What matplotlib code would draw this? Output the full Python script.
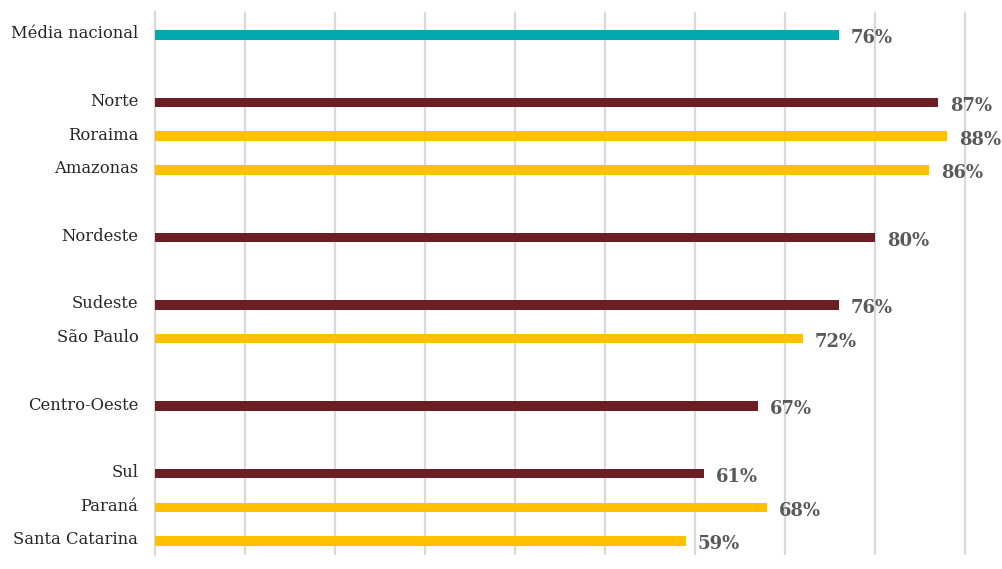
import matplotlib
matplotlib.use("Agg")
import matplotlib.pyplot as plt
from matplotlib.transforms import ScaledTranslation

# Rows top to bottom; empty strings are spacer rows between regions
labels = ["Média nacional", "", "Norte", "Roraima", "Amazonas", "", "Nordeste", "",
          "Sudeste", "São Paulo", "", "Centro-Oeste", "", "Sul", "Paraná", "Santa Catarina"]
values = [76, None, 87, 88, 86, None, 80, None, 76, 72, None, 67, None, 61, 68, 59]
kinds = ["media", None, "regiao", "estado", "estado", None, "regiao", None,
         "regiao", "estado", None, "regiao", None, "regiao", "estado", "estado"]

colors = {"media": "#00A9AD", "regiao": "#6B1F24", "estado": "#FFC000"}

plt.rcParams['font.family'] = ['DejaVu Serif']

fig = plt.figure(figsize=(10.03, 5.69), dpi=100)
ax = fig.add_axes([155 / 1003, 14 / 569, 1 - 155 / 1003, (555 - 12) / 569])

for i, (v, k) in enumerate(zip(values, kinds)):
    if v is None:
        continue
    ax.barh(i, v, height=0.28, color=colors[k], zorder=3)
    ax.text(v + 1.3, i + 0.1, f"{v}%", va="center", ha="left",
            fontsize=13, fontweight="bold", color="#595959", zorder=4)

ax.set_xlim(0, 94.2)
ax.set_ylim(15 + 0.415, -0.68)
ax.set_xticks(range(10, 100, 10))
ax.xaxis.grid(True, color="#D9D9D9", linewidth=1.6, zorder=0)
ax.set_yticks(range(len(labels)))
ax.set_yticklabels(labels, fontsize=11.8, color="#262626")
ax.tick_params(axis="y", length=0, pad=12)
ax.tick_params(axis="x", length=0, labelbottom=False)
# nudge category names slightly above the bars
shift = ScaledTranslation(0, 3 / 100, fig.dpi_scale_trans)
for lbl in ax.get_yticklabels():
    lbl.set_transform(lbl.get_transform() + shift)
for side in ["top", "right", "bottom"]:
    ax.spines[side].set_visible(False)
ax.spines["left"].set_color("#D9D9D9")
ax.spines["left"].set_linewidth(1.6)

fig.savefig("out.png", dpi=100)
